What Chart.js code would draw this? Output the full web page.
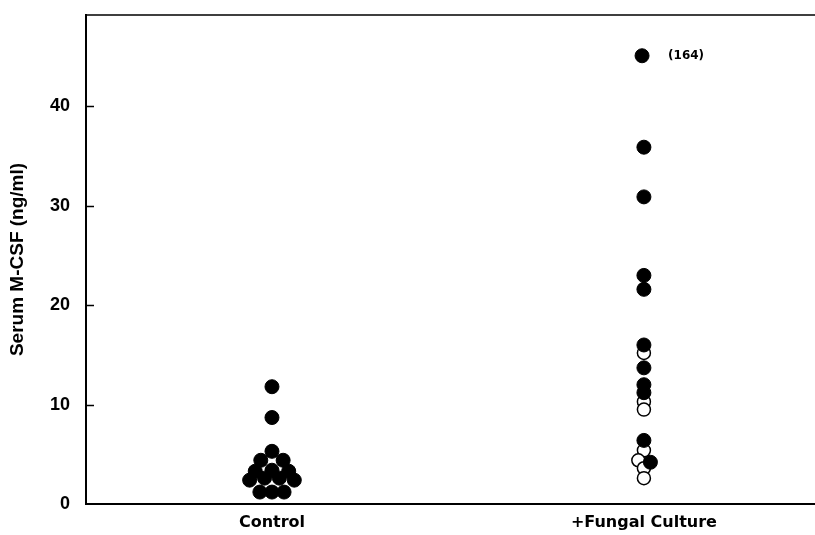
<!DOCTYPE html>
<html>
<head>
<meta charset="utf-8">
<script src="https://cdn.jsdelivr.net/npm/chart.js@4.4.0/dist/chart.umd.min.js"></script>
<style>
    html, body { margin: 0; padding: 0; background: #fff; }
    #wrap { width: 815px; height: 535px; }
</style>
</head>
<body>
<div id="wrap"><canvas id="scatter"></canvas></div>
<script>
// Serum M-CSF - control vs +fungal culture (dot plot)

const groups = ['Control', '+Fungal Culture'];
const groupPos = [1, 3];
const yTicks = [0, 10, 20, 30, 40];

// Control (all filled)
const controlValues  = [11.8, 8.7, 5.3, 4.4, 4.4, 3.3, 3.4, 3.3, 2.4, 2.6, 2.6, 2.4, 1.2, 1.2, 1.2];
const controlOffsets = [0, 0, 0, -0.06, 0.06, -0.09, 0, 0.09, -0.12, -0.04, 0.04, 0.12, -0.065, 0, 0.065];

// +Fungal culture, filled dots (top one is 164, drawn off scale)
const fungalFilledValues  = [45.1, 35.9, 30.9, 23.0, 21.6, 16.0, 13.7, 12.0, 11.2, 6.4, 4.2];
const fungalFilledOffsets = [-0.01, 0, 0, 0, 0, 0, 0, 0, 0, 0, 0.035];

// +Fungal culture, open dots
const fungalOpenValues  = [15.2, 10.3, 9.5, 5.4, 4.4, 3.6, 2.6];
const fungalOpenOffsets = [0, 0, 0, 0, -0.03, 0, 0];

const offScaleLabel = '(164)';

const toPoints = (gi, values, offsets) =>
    values.map((v, i) => ({ x: groupPos[gi] + offsets[i], y: v }));

const FONT = '"Liberation Sans", Arial, sans-serif';
const WIDE = '"DejaVu Sans", sans-serif';

// inward tick marks on the y axis + top frame line + off-scale label
const framePlugin = {
    id: 'frame',
    afterDraw(chart) {
        const ctx = chart.ctx;
        const area = chart.chartArea;
        const y = chart.scales.y;
        const x = chart.scales.x;
        ctx.save();
        ctx.strokeStyle = '#000';
        ctx.lineWidth = 1.5;
        ctx.beginPath();
        ctx.moveTo(area.left, area.top);
        ctx.lineTo(area.right, area.top);
        yTicks.forEach(t => {
            if (t === 0) return;
            const py = Math.round(y.getPixelForValue(t)) + 0.5;
            ctx.moveTo(area.left, py);
            ctx.lineTo(area.left + 8, py);
        });
        ctx.stroke();

        ctx.fillStyle = '#000';
        ctx.font = 'bold 12px ' + WIDE;
        ctx.textBaseline = 'middle';
        ctx.textAlign = 'left';
        const top = fungalFilledValues[0];
        ctx.fillText(offScaleLabel,
            x.getPixelForValue(groupPos[1] + 0.13),
            y.getPixelForValue(top));
        ctx.restore();
    }
};

new Chart(document.getElementById('scatter').getContext('2d'), {
    type: 'scatter',
    data: {
        datasets: [
            {
                label: 'fungal filled',
                data: toPoints(1, fungalFilledValues, fungalFilledOffsets),
                backgroundColor: '#000',
                borderColor: '#000',
                borderWidth: 1,
                pointRadius: 7,
                pointHoverRadius: 7
            },
            {
                label: 'fungal open',
                data: toPoints(1, fungalOpenValues, fungalOpenOffsets),
                backgroundColor: '#fff',
                borderColor: '#000',
                borderWidth: 1.5,
                pointRadius: 6.5,
                pointHoverRadius: 6.5
            },
            {
                label: 'control',
                data: toPoints(0, controlValues, controlOffsets),
                backgroundColor: '#000',
                borderColor: '#000',
                borderWidth: 1,
                pointRadius: 7,
                pointHoverRadius: 7
            }
        ]
    },
    options: {
        responsive: true,
        maintainAspectRatio: false,
        animation: false,
        layout: { autoPadding: false, padding: { top: 15, right: 0, left: 0, bottom: 0 } },
        plugins: {
            legend: { display: false },
            tooltip: { enabled: false }
        },
        scales: {
            x: {
                type: 'linear',
                min: 0,
                max: 3.92,
                afterBuildTicks(scale) {
                    scale.ticks = groupPos.map(v => ({ value: v }));
                },
                afterFit(scale) {
                    scale.height = 31;
                    scale.paddingLeft = 0;
                    scale.paddingRight = 0;
                },
                grid: { display: false, drawTicks: false },
                border: { display: true, color: '#000', width: 2 },
                ticks: {
                    color: '#000',
                    padding: 9,
                    maxRotation: 0,
                    autoSkip: false,
                    font: { family: WIDE, size: 16, weight: 'bold' },
                    callback: (v) => groups[groupPos.indexOf(v)]
                }
            },
            y: {
                min: 0,
                max: 49.2,
                afterBuildTicks(scale) {
                    scale.ticks = yTicks.map(v => ({ value: v }));
                },
                afterFit(scale) {
                    scale.width = 86;
                    scale.paddingTop = 0;
                    scale.paddingBottom = 0;
                },
                grid: { display: false, drawTicks: false },
                border: { display: true, color: '#000', width: 2 },
                ticks: {
                    color: '#000',
                    padding: 16,
                    font: { family: FONT, size: 18, weight: 'bold' }
                },
                title: {
                    display: true,
                    text: 'Serum M-CSF (ng/ml)',
                    color: '#000',
                    padding: { top: 6, bottom: 0 },
                    font: { family: FONT, size: 19, weight: 'bold' }
                }
            }
        }
    },
    plugins: [framePlugin]
});
</script>
</body>
</html>
